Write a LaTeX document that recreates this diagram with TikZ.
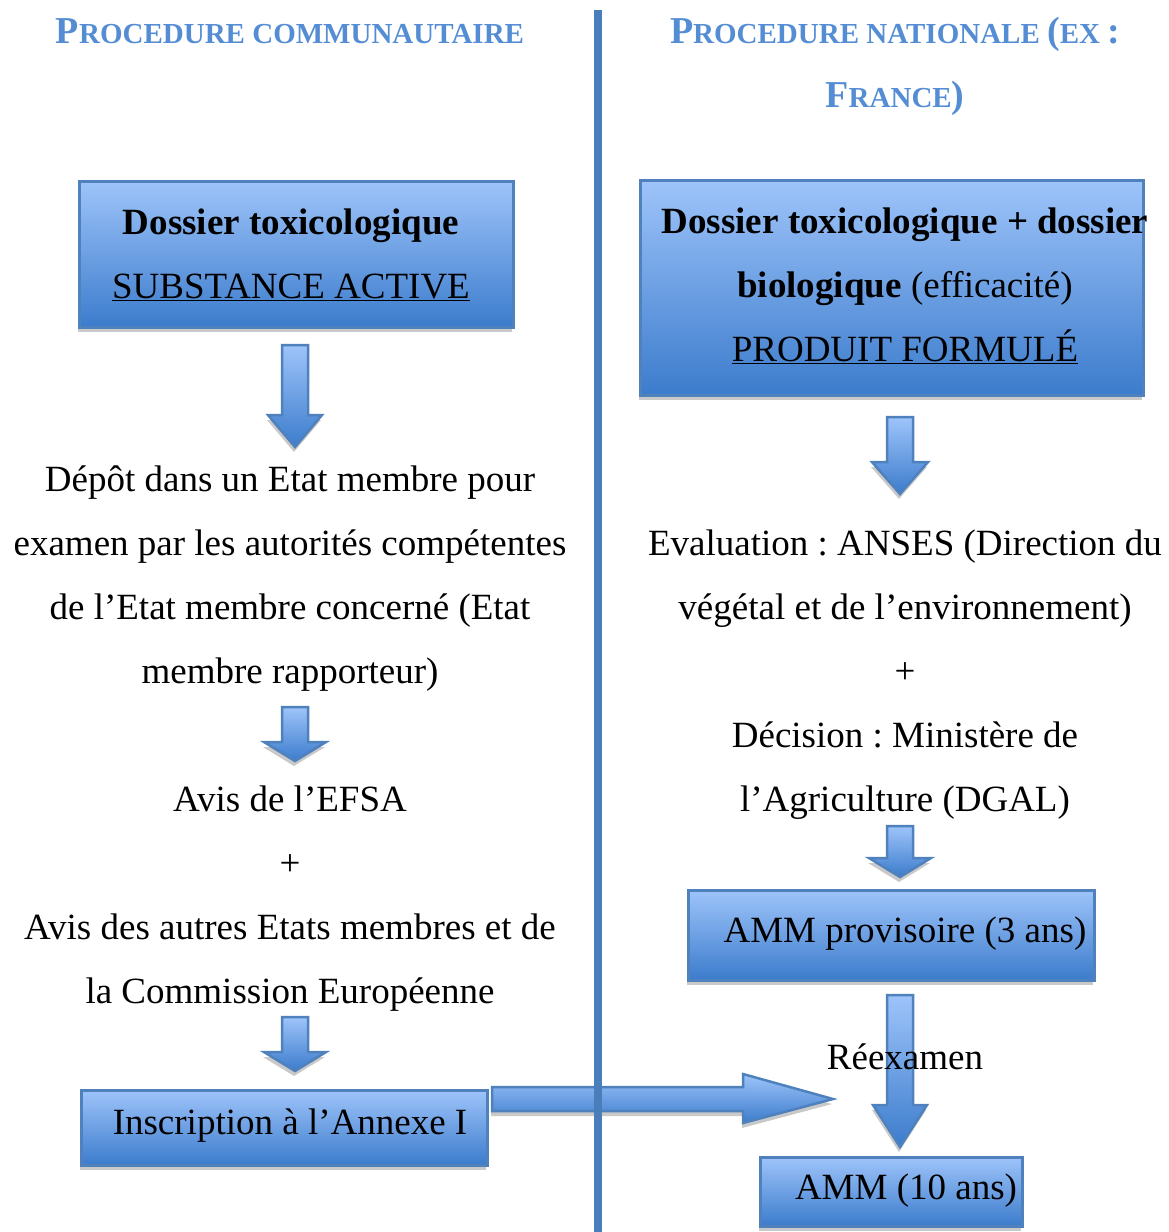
\documentclass[tikz,border=0pt]{standalone}
\usepackage{fontspec}
\setmainfont{Liberation Serif}
\usepackage{xcolor}
\usetikzlibrary{shadows}
\frenchspacing

\definecolor{headblue}{RGB}{84,141,212}
\definecolor{blueedge}{RGB}{79,129,189}
\definecolor{bluetop}{RGB}{158,196,250}
\definecolor{bluebot}{RGB}{60,124,204}
\definecolor{divblue}{RGB}{74,126,187}

% big letters of the faux small caps headings
\newcommand{\hdbig}[1]{{\fontsize{38}{64}\selectfont #1}}
% block arrow pointing down: x, top, head start, tip, half shaft, half head
\newcommand{\blkdown}[6]{\path[blk] (#1-#5,#2) -- (#1+#5,#2) -- (#1+#5,#3) -- (#1+#6,#3) -- (#1,#4) -- (#1-#6,#3) -- (#1-#5,#3) -- cycle;}

\begin{document}
\begin{tikzpicture}[x=1pt,y=-1pt,
    txt/.style={font=\fontsize{37}{64}\selectfont, align=center, inner sep=0pt, anchor=base},
    hdr/.style={font=\bfseries\fontsize{29}{64}\selectfont, text=headblue, align=center, inner sep=0pt, anchor=base},
    blkshadow/.style={drop shadow={shadow xshift=-1pt, shadow yshift=-5pt, fill=black!30, opacity=.7}},
    bbox/.style={draw=blueedge, line width=3pt, top color=bluetop, bottom color=bluebot, blkshadow, inner sep=0pt},
    blk/.style={draw=blueedge, line width=2.5pt, top color=bluetop, bottom color=bluebot, blkshadow}
]
    \useasboundingbox (0,0) rectangle (1168,1232);

    % headings (base = last line)
    \node[hdr] (hdcom) at (290,43) {\hdbig{P}ROCEDURE COMMUNAUTAIRE};
    \node[hdr] (hdnat) at (895,107) {\hdbig{P}ROCEDURE NATIONALE \hdbig{(}EX \hdbig{:}\\\hdbig{F}RANCE\hdbig{)}};

    % boxes
    \node[bbox, minimum width=434, minimum height=146] (substbox) at (296,254) {};
    \node[bbox, minimum width=503, minimum height=215] (prodbox) at (891.5,287.5) {};
    \node[bbox, minimum width=406, minimum height=75] (inscbox) at (284,1127.5) {};
    \node[bbox, minimum width=406, minimum height=90] (provbox) at (891,935) {};
    \node[bbox, minimum width=262, minimum height=69] (ammbox) at (891,1191.5) {};

    % left column
    \node[txt] (substtxt) at (291,298) {\textbf{Dossier toxicologique}\\\underline{SUBSTANCE ACTIVE}};
    \blkdown{295}{345}{415}{447}{13}{27}
    \node[txt] (depot) at (290,683) {Dépôt dans un Etat membre pour\\examen par les autorités compétentes\\de l’Etat membre concerné (Etat\\membre rapporteur)};
    \blkdown{295}{707}{742}{761}{13}{31}
    \node[txt] (avis) at (290,1003) {Avis de l’EFSA\\+\\Avis des autres Etats membres et de\\la Commission Européenne};
    \blkdown{295}{1017}{1052}{1071}{13}{31}
    \node[txt] (insc) at (290,1134) {Inscription à l’Annexe I};

    % right column
    \node[txt] (prodtxt) at (905,361) {\textbf{Dossier toxicologique + dossier}\\\textbf{biologique} (efficacité)\\\underline{PRODUIT FORMULÉ}};
    \blkdown{900}{417}{462}{494}{13}{28}
    \node[txt] (eval) at (905,811) {Evaluation : ANSES (Direction du\\végétal et de l’environnement)\\+\\Décision : Ministère de\\l’Agriculture (DGAL)};
    \blkdown{900}{826}{858}{877}{13}{31}
    \node[txt] (prov) at (905,942) {AMM provisoire (3 ans)};
    \blkdown{900}{995}{1105}{1147}{13}{27}
    \node[txt] (reex) at (905,1069) {Réexamen};
    \node[txt] (amm) at (906,1199) {AMM (10 ans)};

    % arrow across the two procedures
    \path[blk] (492,1087) -- (743,1087) -- (743,1074) -- (833,1099) -- (743,1123) -- (743,1111) -- (492,1111) -- cycle;

    % divider
    \coordinate (divtop) at (598,10);
    \coordinate (divbot) at (598,1232);
    \draw[line width=8pt, divblue] (divtop) -- (divbot);
\end{tikzpicture}
\end{document}
